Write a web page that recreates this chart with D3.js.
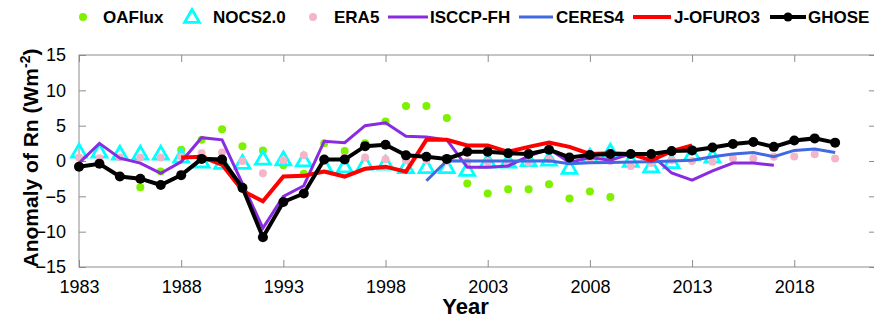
<!DOCTYPE html>
<html>
<head>
<meta charset="utf-8">
<script src="https://cdn.jsdelivr.net/npm/d3@7"></script>
<style>
  body { margin: 0; background: #fff; }
  svg { display: block; font-family: "Liberation Sans", Arial, sans-serif; }
</style>
</head>
<body>
<div id="chart"></div>
<script>
// Years 1983-2020, null where a dataset has no value
const years = d3.range(1983, 2021);

const oaflux = [null, null, null, -3.7, -1.5, 1.6, 3.0, 4.5, 2.1, 1.5,
  -0.6, -1.8, 2.5, 1.4, 2.5, 5.6, 7.8, 7.8, 6.1, -3.2,
  -4.6, -4.0, -4.0, -3.3, -5.3, -4.3, -5.1, null, null, null,
  null, null, null, null, null, null, null, null];

const nocs = [1.3, 1.3, 1.0, 1.0, 1.0, 0.6, -0.1, -0.3, -0.3, 0.3,
  0.2, 0.05, -0.7, -0.8, -0.4, -0.4, -0.9, -0.9, -0.9, -1.3,
  -0.1, -0.1, 0.1, 0.15, -1.0, 0.6, 1.3, 0.0, -0.8, -0.2,
  0.9, 0.6, null, null, null, null, null, null];

const era5 = [0.5, 0.4, 0.5, 0.5, 0.5, 0.6, 1.1, 1.2, 0.0, -1.75,
  0.1, 0.8, 0.0, 0.5, 0.5, 0.25, 0.1, 0.1, 0.0, -0.1,
  -0.1, -0.2, -0.2, 0.2, 0.0, 0.3, 0.0, -0.7, -0.3, 0.1,
  0.0, -0.1, 0.35, 0.35, 0.6, 0.65, 0.95, 0.35];

const isccp = [-0.3, 2.5, 0.4, -0.3, -1.75, -0.1, 3.3, 3.0, -3.2, -9.5,
  -5.0, -3.5, 2.8, 2.6, 5.0, 5.4, 3.5, 3.4, 3.0, -0.9,
  -0.9, -0.7, 0.7, 1.7, -0.2, 0.5, 0.1, 1.0, 0.9, -1.7,
  -2.7, -1.4, -0.3, -0.3, -0.6, null, null, null];

const ceres = [null, null, null, null, null, null, null, null, null, null,
  null, null, null, null, null, null, null, -2.8, 0.05, 0.0,
  0.0, 0.0, 0.0, 0.05, -0.4, -0.25, -0.2, -0.15, -0.1, 0.0,
  0.1, 0.6, 1.0, 1.2, 0.6, 1.5, 1.7, 1.2];

const jofuro = [null, null, null, null, null, 0.5, 0.6, -0.5, -4.2, -5.7,
  -2.2, -2.1, -1.5, -2.2, -1.1, -0.8, -1.5, 3.0, 3.0, 2.2,
  2.2, 1.3, 2.0, 2.6, 2.0, 1.0, 1.1, 1.0, 0.1, 1.4,
  2.2, null, null, null, null, null, null, null];

const ghose = [-0.8, -0.4, -2.2, -2.5, -3.4, -2.0, 0.3, 0.2, -3.8, -10.8,
  -5.8, -4.6, 0.2, 0.2, 2.1, 2.3, 0.8, 0.6, 0.3, 1.3,
  1.3, 1.1, 1.0, 1.6, 0.5, 0.85, 1.0, 1.0, 1.0, 1.4,
  1.5, 1.9, 2.4, 2.7, 2.0, 2.9, 3.2, 2.6];

const xTicks = [1983, 1988, 1993, 1998, 2003, 2008, 2013, 2018];
const yTicks = [-15, -10, -5, 0, 5, 10, 15];

const width = 874, height = 322;
const margin = { top: 55, right: -2, bottom: 55, left: 79 };
const plotW = width - margin.left - margin.right;
const plotH = height - margin.top - margin.bottom;

const svg = d3.select("#chart").append("svg")
  .attr("width", width)
  .attr("height", height);

const x = d3.scaleLinear().domain([1983, 2022]).range([0, plotW]);
const y = d3.scaleLinear().domain([-15, 15]).range([plotH, 0]);

const g = svg.append("g")
  .attr("transform", "translate(" + margin.left + "," + margin.top + ")");

// frame + inward ticks
const axisColor = "#8c8c8c";
g.append("rect")
  .attr("width", plotW).attr("height", plotH)
  .attr("fill", "none").attr("stroke", axisColor).attr("stroke-width", 1);

const xb = g.append("g")
  .attr("transform", "translate(0," + plotH + ")")
  .call(d3.axisBottom(x).tickValues(xTicks).tickFormat(d3.format("d"))
    .tickSizeInner(-7).tickSizeOuter(0).tickPadding(13));
const xt = g.append("g")
  .call(d3.axisTop(x).tickValues(xTicks).tickFormat("").tickSizeInner(-7).tickSizeOuter(0));
const yl = g.append("g")
  .call(d3.axisLeft(y).tickValues(yTicks).tickSizeInner(-7).tickSizeOuter(0).tickPadding(13));
const yr = g.append("g")
  .attr("transform", "translate(" + plotW + ",0)")
  .call(d3.axisRight(y).tickValues(yTicks).tickFormat("").tickSizeInner(-7).tickSizeOuter(0));

[xb, xt, yl, yr].forEach(a => {
  a.select(".domain").remove();
  a.selectAll(".tick line").attr("stroke", axisColor);
  a.selectAll(".tick text").attr("fill", "#000")
    .style("font-size", "18px").style("font-family", "Liberation Sans, Arial, sans-serif");
});

// helpers
const pts = vals => years.map((yr, i) => ({ year: yr, v: vals[i] })).filter(d => d.v !== null);
const line = d3.line().x(d => x(d.year)).y(d => y(d.v));

const tri = d3.symbol().type(d3.symbolTriangle).size(95);

// OAFlux dots
g.append("g").selectAll("circle")
  .data(pts(oaflux)).enter().append("circle")
  .attr("cx", d => x(d.year)).attr("cy", d => y(d.v))
  .attr("r", 4).attr("fill", "#7ff000");

// NOCS2.0 triangles
g.append("g").selectAll("path")
  .data(pts(nocs)).enter().append("path")
  .attr("d", tri)
  .attr("transform", d => "translate(" + x(d.year) + "," + (y(d.v) + 1) + ")")
  .attr("fill", "none").attr("stroke", "#00ffff").attr("stroke-width", 2.8);

// ERA5 dots
g.append("g").selectAll("circle")
  .data(pts(era5)).enter().append("circle")
  .attr("cx", d => x(d.year)).attr("cy", d => y(d.v))
  .attr("r", 4).attr("fill", "#f5b5c9");

// lines
g.append("path").datum(pts(isccp)).attr("d", line)
  .attr("fill", "none").attr("stroke", "#8a2be2").attr("stroke-width", 3);
g.append("path").datum(pts(ceres)).attr("d", line)
  .attr("fill", "none").attr("stroke", "#4169e1").attr("stroke-width", 3);
g.append("path").datum(pts(jofuro)).attr("d", line)
  .attr("fill", "none").attr("stroke", "#ff0000").attr("stroke-width", 4);
g.append("path").datum(pts(ghose)).attr("d", line)
  .attr("fill", "none").attr("stroke", "#000").attr("stroke-width", 4);
g.append("g").selectAll("circle")
  .data(pts(ghose)).enter().append("circle")
  .attr("cx", d => x(d.year)).attr("cy", d => y(d.v))
  .attr("r", 5).attr("fill", "#000");

// axis titles
svg.append("text")
  .attr("x", margin.left + plotW / 2 - 12).attr("y", 314)
  .attr("text-anchor", "middle")
  .style("font-size", "22px").style("font-weight", "bold")
  .text("Year");

const yt = svg.append("text")
  .attr("transform", "translate(38,158) rotate(-90)")
  .attr("text-anchor", "middle")
  .style("font-size", "21px").style("font-weight", "bold");
yt.append("tspan").text("Anomaly of Rn (Wm");
yt.append("tspan").attr("dy", -8).style("font-size", "14px").text("-2");
yt.append("tspan").attr("dy", 8).text(")");

// legend
const legY = 17;
const leg = svg.append("g").style("font-size", "17px").style("font-weight", "bold");
const legText = (tx, s) => leg.append("text").attr("x", tx).attr("y", legY).attr("dy", "0.35em").text(s);

leg.append("circle").attr("cx", 83).attr("cy", legY).attr("r", 4).attr("fill", "#7ff000");
legText(103, "OAFlux");
leg.append("path").attr("d", tri).attr("transform", "translate(192," + (legY + 1) + ")")
  .attr("fill", "none").attr("stroke", "#00ffff").attr("stroke-width", 2.8);
legText(213, "NOCS2.0");
leg.append("circle").attr("cx", 313).attr("cy", legY).attr("r", 4).attr("fill", "#f5b5c9");
legText(334, "ERA5");
leg.append("line").attr("x1", 388).attr("x2", 428).attr("y1", legY).attr("y2", legY)
  .attr("stroke", "#8a2be2").attr("stroke-width", 3);
legText(430, "ISCCP-FH");
leg.append("line").attr("x1", 519).attr("x2", 553).attr("y1", legY).attr("y2", legY)
  .attr("stroke", "#4169e1").attr("stroke-width", 3);
legText(556, "CERES4");
leg.append("line").attr("x1", 633).attr("x2", 671).attr("y1", legY).attr("y2", legY)
  .attr("stroke", "#ff0000").attr("stroke-width", 4);
legText(674, "J-OFURO3");
leg.append("line").attr("x1", 770).attr("x2", 806).attr("y1", legY).attr("y2", legY)
  .attr("stroke", "#000").attr("stroke-width", 4);
leg.append("circle").attr("cx", 788).attr("cy", legY).attr("r", 4.5).attr("fill", "#000");
legText(808, "GHOSE");
</script>
</body>
</html>
